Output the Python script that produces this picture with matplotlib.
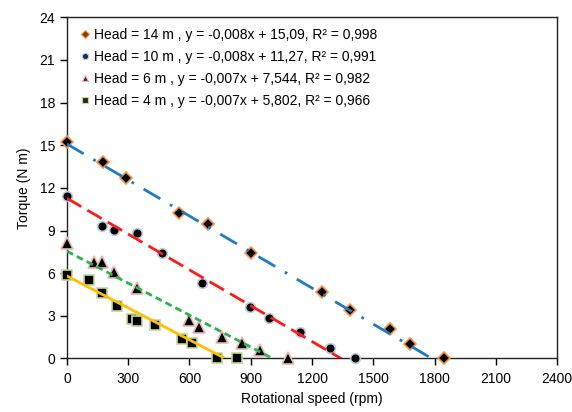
import numpy as np
import matplotlib.pyplot as plt
from matplotlib.lines import Line2D

plt.rcParams['font.family'] = ['Liberation Sans', 'DejaVu Sans']
plt.rcParams['font.size'] = 10

# measured torque vs rotational speed for each head
heads = [14, 10, 6, 4]

speed_14 = [0, 175, 287, 548, 689, 900, 1249, 1384, 1582, 1680, 1848]
torque_14 = [15.2, 13.8, 12.67, 10.2, 9.43, 7.4, 4.67, 3.4, 2.08, 1.03, 0]

speed_10 = [0, 170, 230, 341, 467, 660, 896, 991, 1141, 1286, 1410]
torque_10 = [11.42, 9.33, 9.03, 8.8, 7.43, 5.32, 3.65, 2.86, 1.87, 0.70, 0]

speed_6 = [0, 134, 170, 230, 341, 599, 648, 760, 857, 947, 1080]
torque_6 = [8.09, 6.76, 6.76, 6.05, 4.97, 2.7, 2.22, 1.52, 1.1, 0.58, 0]

speed_4 = [0, 109, 170, 246, 317, 341, 429, 565, 611, 736, 831]
torque_4 = [5.86, 5.51, 4.62, 3.70, 2.77, 2.62, 2.34, 1.36, 1.1, 0.05, 0]

# linear trendlines (slope, intercept) and their R²
fit_slope = [-0.00845, -0.0084, -0.00749, -0.00749]
fit_intercept = [15.09, 11.27, 7.544, 5.802]
fit_r2 = [0.998, 0.991, 0.982, 0.966]

speeds = [speed_14, speed_10, speed_6, speed_4]
torques = [torque_14, torque_10, torque_6, torque_4]

markers = ['D', 'o', '^', 's']
marker_sizes = [6.5, 7, 8, 7]
edge_colors = ['#F79646', '#B9CDE5', '#E6B9B8', '#C3D69B']
legend_faces = ['#7F3F00', '#1F2F4F', '#5A1A1A', '#1F2F0F']
line_colors = ['#1F7BC2', '#FF1A1A', '#2DB34A', '#FFC000']
line_styles = [(0, (7, 4, 1, 4)), (0, (6, 2.5)), (0, (2.5, 1.5)), '-']


def fmt(v, nd):
    return f"{v:.{nd}f}".replace('.', ',')


fig, ax = plt.subplots(figsize=(5.72, 4.12), dpi=100)
fig.subplots_adjust(left=0.117, right=0.974, bottom=0.130, top=0.958)

handles = []
labels = []
for i in range(len(heads)):
    x = np.array(speeds[i])
    ax.plot(x, torques[i], linestyle='none', marker=markers[i], ms=marker_sizes[i],
            mfc='black', mec=edge_colors[i], mew=1.2, zorder=3, clip_on=False)
    xs = np.linspace(0, x.max(), 200)
    ax.plot(xs, fit_slope[i] * xs + fit_intercept[i], color=line_colors[i],
            linestyle=line_styles[i], lw=2, zorder=4)
    nd = 2 if fit_intercept[i] >= 10 else 3
    labels.append(f"Head = {heads[i]} m , y = {fmt(fit_slope[i], 3)}x + "
                  f"{fmt(fit_intercept[i], nd)}, R² = {fmt(fit_r2[i], 3)}")
    handles.append(Line2D([], [], linestyle='none', marker=markers[i], ms=4.5,
                          mfc=legend_faces[i], mec=edge_colors[i], mew=0.8))

ax.set_xlim(0, 2400)
ax.set_ylim(0, 24)
ax.set_xticks(np.arange(0, 2401, 300))
ax.set_yticks(np.arange(0, 25, 3))
ax.tick_params(direction='out', length=5, width=1, colors='black', labelsize=10)
ax.tick_params(axis='x', pad=5)
for s in ax.spines.values():
    s.set_linewidth(1)
    s.set_color('#222222')

ax.set_xlabel('Rotational speed (rpm)', fontsize=10, labelpad=4)
ax.set_ylabel('Torque (N m)', fontsize=10, labelpad=6)

ax.legend(handles, labels, loc='upper left', bbox_to_anchor=(0.0, 0.997),
          frameon=False, handletextpad=0.05, handlelength=1.2,
          labelspacing=0.58, fontsize=10, borderaxespad=0.3)

fig.savefig('out.png', dpi=100)
